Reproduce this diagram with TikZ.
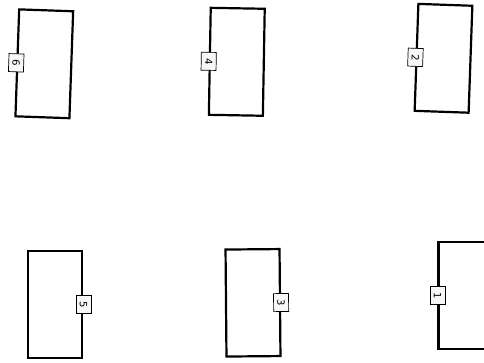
\documentclass[tikz,border=0pt]{standalone}
\usepackage{tikz}
\usetikzlibrary{positioning}
\usepackage{fontspec}
\setsansfont{DejaVu Sans}
\begin{document}
\begin{tikzpicture}[x=1pt,y=-1pt,
		box/.style={rectangle, draw, line width=2.2pt, minimum width=54pt, minimum height=107pt, inner sep=0pt},
		tag/.style={rectangle, draw, fill=gray!6, line width=0.7pt, font=\sffamily\normalsize, inner sep=1pt, minimum width=18pt, minimum height=15pt}
		]
		\useasboundingbox (0,0) rectangle (484,363);
		\clip (0,0) rectangle (484,363);
		\node[box, rotate=-2] (r6) at (44.3,63.8) {};
		\node[box, rotate=-1] (r4) at (236.8,61.8) {};
		\node[box, rotate=-2] (r2) at (443.5,58.3) {};
		\node[box] (r5) at (55.3,304.5) {};
		\node[box, rotate=0.5] (r3) at (253,302.8) {};
		\node[box] (r1) at (465.5,295.5) {};
		\node[tag, rotate=-92] (t6) at (r6.west) {6};
		\node[tag, rotate=-91] (t4) at (r4.west) {4};
		\node[tag, rotate=-92] (t2) at (r2.west) {2};
		\node[tag, rotate=-90] (t5) at (r5.east) {5};
		\node[tag, rotate=-89.5] (t3) at (r3.east) {3};
		\node[tag, rotate=-90] (t1) at (r1.west) {1};
	\end{tikzpicture}
\end{document}
